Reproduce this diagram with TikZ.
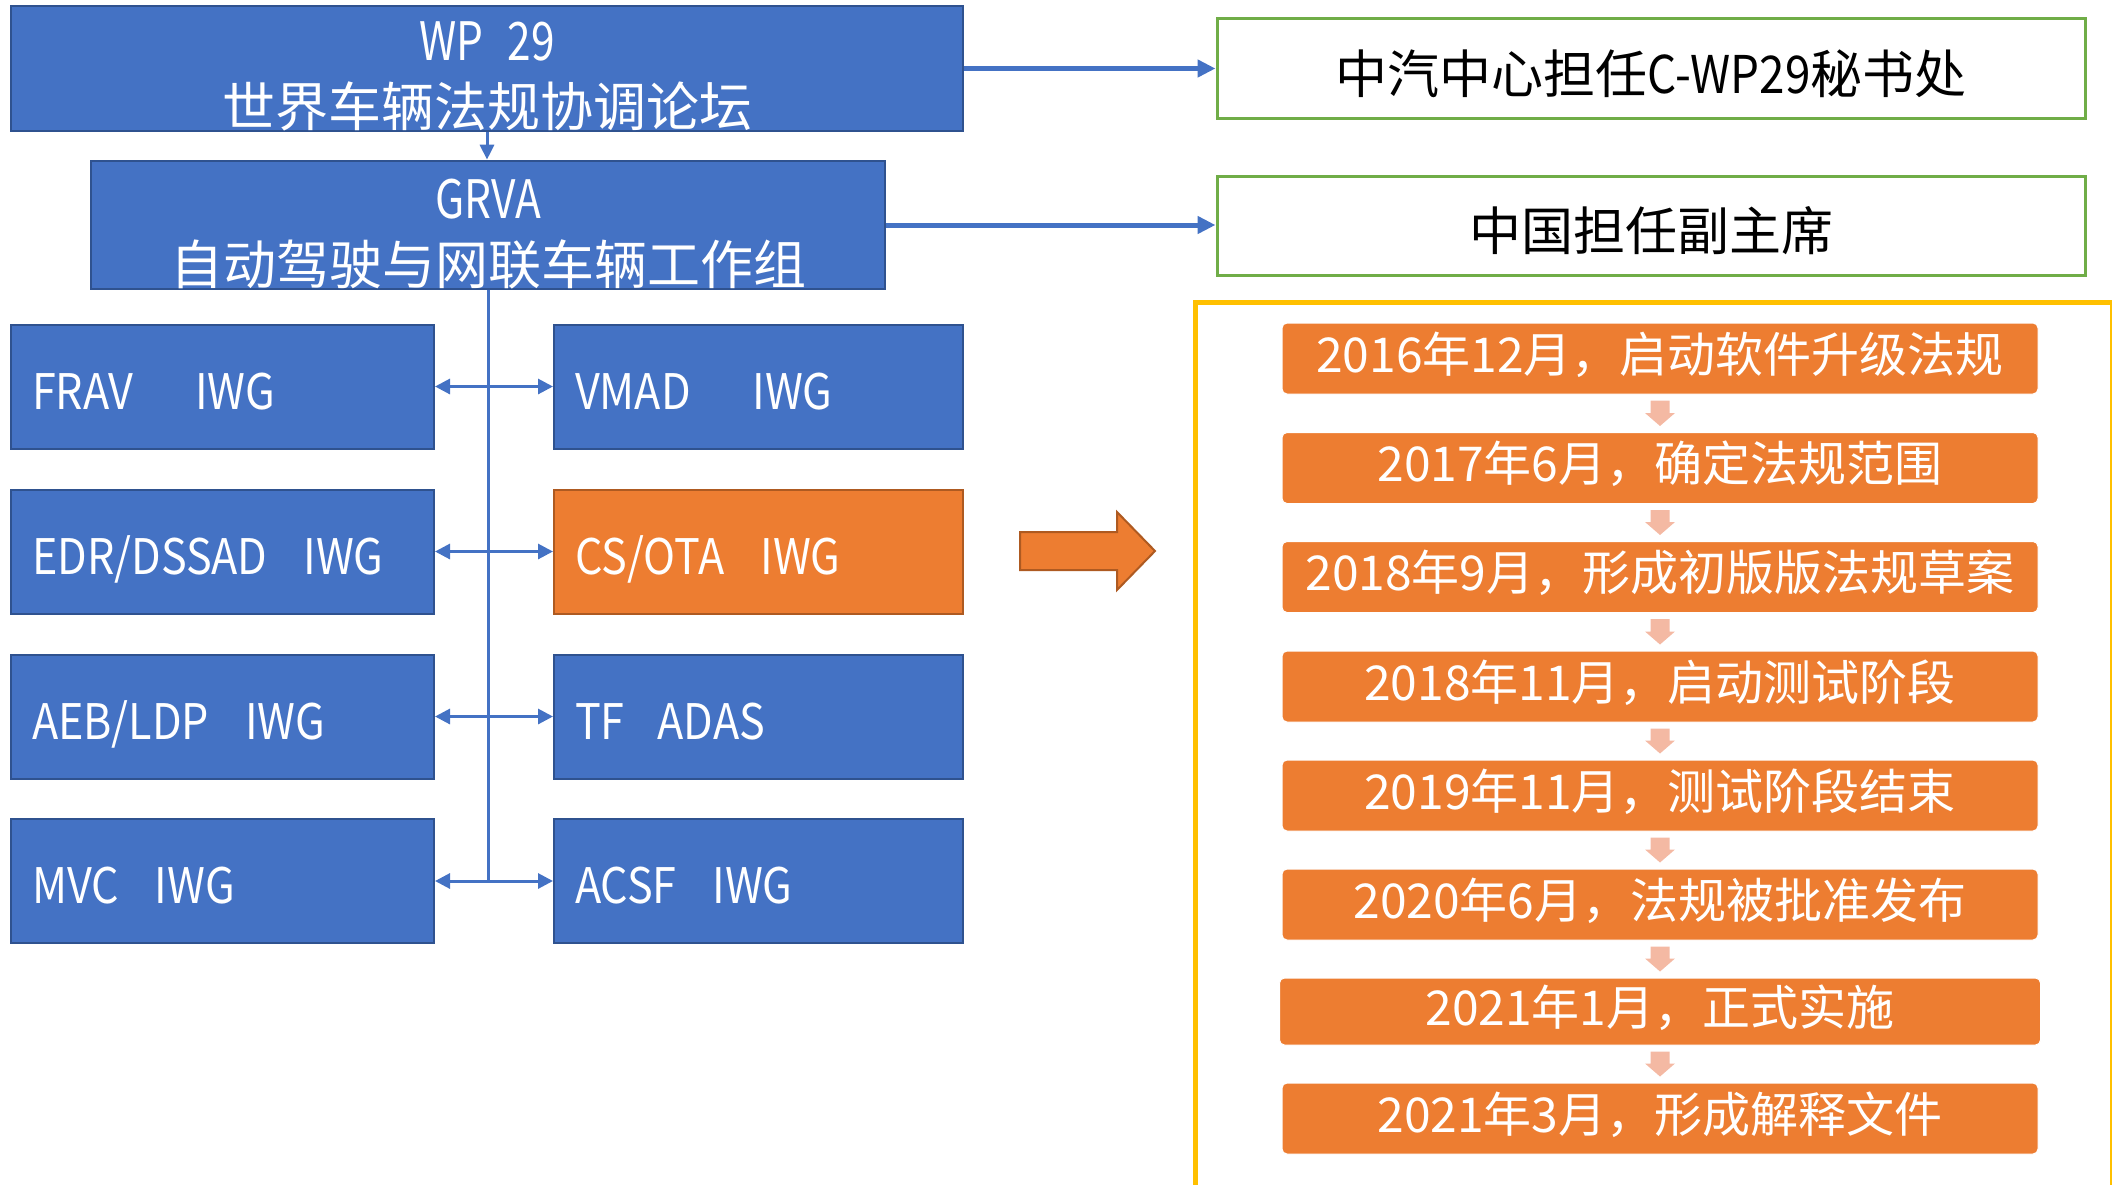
\documentclass[tikz,border=0pt]{standalone}
\usepackage{fontspec}
\setmainfont{Noto Sans CJK SC}
\newfontfamily\narrowfont[FakeStretch=0.8]{Noto Sans CJK SC}
\newfontfamily\wgfont[FakeStretch=0.88]{Noto Sans CJK SC}
\usepackage{tikz}
\usetikzlibrary{calc,arrows.meta}
\definecolor{wpblue}{HTML}{4472C4}
\definecolor{wpedge}{HTML}{2F528F}
\definecolor{otaorange}{HTML}{ED7D31}
\definecolor{otaedge}{HTML}{AE5A21}
\definecolor{chairgreen}{HTML}{70AD47}
\definecolor{frameyellow}{HTML}{FFC000}
\definecolor{steppink}{RGB}{244,185,163}
\newcommand*{\TopStrut}[1]{\rule{0pt}{#1pt}}
\newcommand*{\StepArrow}[2]{% #1 = upper step, #2 = lower step
\fill[steppink] ($(#1.south)+(-9.5,6)$) -- ($(#1.south)+(9.5,6)$)
  -- ($(#2.north)+(9.5,-19)$) -- ($(#2.north)+(15,-19)$)
  -- ($(#2.north)+(0,-6)$) -- ($(#2.north)+(-15,-19)$)
  -- ($(#2.north)+(-9.5,-19)$) -- cycle;
}
\tikzset{
  wpbox/.style={draw=wpedge, line width=2pt, fill=wpblue, text=white,
    align=center, inner sep=0pt, font=\fontsize{53}{66}\selectfont},
  wgbox/.style={draw=wpedge, line width=2pt, fill=wpblue, text=white,
    align=left, inner xsep=21pt, inner ysep=0pt, minimum height=124pt,
    text height=45pt, text depth=0pt,
    font=\fontsize{49}{58}\selectfont\wgfont},
  otabox/.style={wgbox, draw=otaedge, fill=otaorange},
  chairbox/.style={draw=chairgreen, line width=3pt, minimum width=868pt,
    text height=50pt, text depth=0pt, font=\fontsize{52}{60}\selectfont},
  stepbox/.style={draw=white, line width=1pt, fill=otaorange,
    rounded corners=5pt, text=white, text height=27pt, text depth=0pt,
    font=\fontsize{48}{56}\selectfont},
  trunk/.style={wpblue, line width=3pt},
  lead/.style={wpblue, line width=5pt, -{Triangle[length=18pt,width=17pt]}},
}

\begin{document}
\begin{tikzpicture}[x=1pt, y=-1pt]
  \clip (0,0) rectangle (2112,1184);

  \node[wpbox, minimum width=952pt, minimum height=123pt] (wp29) at (487,68.5)
    {\TopStrut{55}{\narrowfont WP\hspace{24pt}29}\\世界车辆法规协调论坛};
  \node[wpbox, minimum width=794pt, minimum height=124pt] (grva) at (488,225)
    {\TopStrut{58}{\narrowfont GRVA}\\自动驾驶与网联车辆工作组};
  \draw[trunk, -{Triangle[length=15pt,width=14pt]}] (wp29.south) -- (wp29.south |- grva.north);

  \node[chairbox, minimum height=100pt] (secretariat) at (1651,68)
    {中汽中心担任{\wgfont C-WP29}秘书处};
  \node[chairbox, minimum height=99pt] (vicechair) at (1651,225.5) {中国担任副主席};
  \draw[lead] (wp29.east) -- (wp29.east -| secretariat.west);
  \draw[lead] (grva.east) -- (grva.east -| vicechair.west);

  \foreach \yc/\lname/\ltxt/\rname/\rtxt/\rstyle in {
    386.5/frav/{FRAV\hspace{62pt}IWG}/vmad/{VMAD\hspace{62pt}IWG}/wgbox,
    551.5/edr/{EDR/DSSAD\hspace{36pt}IWG}/csota/{CS/OTA\hspace{36pt}IWG}/otabox,
    716.5/aeb/{AEB/LDP\hspace{36pt}IWG}/tfadas/{TF\hspace{33pt}ADAS}/wgbox,
    881/mvc/{MVC\hspace{36pt}IWG}/acsf/{ACSF\hspace{36pt}IWG}/wgbox} {
    \node[wgbox, text width=381pt] (\lname) at (222.5,\yc) {\ltxt};
    \node[\rstyle, text width=367pt] (\rname) at (758.5,\yc) {\rtxt};
    \draw[trunk, {Triangle[length=15pt,width=15pt]}-{Triangle[length=15pt,width=15pt]}]
      (\lname.east) -- (\rname.west);
  }
  \draw[trunk] (grva.south) -- (grva.south |- mvc.east);

  \draw[otaedge, line width=2pt, fill=otaorange, line join=miter]
    (1020,532) -- (1117,532) -- (1117,512) -- (1155,551)
    -- (1117,590) -- (1117,570) -- (1020,570) -- cycle;

  \draw[frameyellow, line width=5pt] (1195,1200) -- (1195,302) -- (2112,302) -- (2112,1200);

  \foreach \i/\yc/\bw/\bh/\txt in {
    1/358.5/756/71/{2016年12月，启动软件升级法规},
    2/468/756/71/{2017年6月，确定法规范围},
    3/577/756/71/{2018年9月，形成初版版法规草案},
    4/686.5/756/71/{2018年11月，启动测试阶段},
    5/795.5/756/71/{2019年11月，测试阶段结束},
    6/904.5/756/71/{2020年6月，法规被批准发布},
    7/1011.5/761/67/{2021年1月，正式实施},
    8/1118.5/756/71/{2021年3月，形成解释文件}} {
    \node[stepbox, minimum width=\bw pt, minimum height=\bh pt] (step\i) at (1660,\yc) {\txt};
  }
  \foreach \i in {1,...,7} {
    \pgfmathtruncatemacro{\j}{\i+1}
    \StepArrow{step\i}{step\j}
  }
\end{tikzpicture}
\end{document}
